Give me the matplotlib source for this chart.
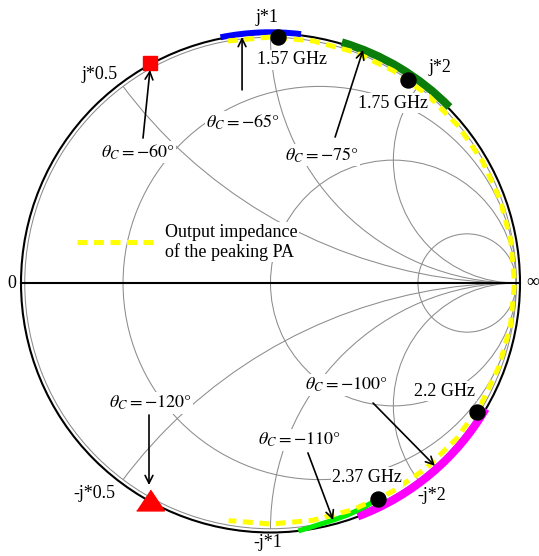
import numpy as np
import matplotlib.pyplot as plt
from matplotlib.patches import Arc, Circle

plt.rcParams['font.family'] = 'Liberation Serif'
plt.rcParams['mathtext.fontset'] = 'stix'

# --- Smith chart grid values ---
R_CIRCLES = [0.25, 1, 4]
X_ARCS = [0.5, 1, 2, -0.5, -1, -2]
GRID_SCALE = 0.985   # printed grid sits slightly inside the unit circle

# Output impedance of the peaking PA as reflection coefficient (angle in deg, |Gamma|)
trace_ang = [100, 90, 80, 70, 60, 50, 40, 30, 20, 10, 0,
             -10, -20, -30, -40, -50, -60, -70, -80, -90, -100]
trace_mag = [0.985, 0.986, 0.985, 0.985, 0.983, 0.982, 0.981, 0.980, 0.979, 0.978, 0.978,
             0.977, 0.975, 0.974, 0.972, 0.970, 0.968, 0.967, 0.966, 0.966, 0.967]

# Frequency points on the trace
freq_labels = ['1.57 GHz', '1.75 GHz', '2.2 GHz', '2.37 GHz']
freq_ang = [88.3, 55.9, -32.0, -63.6]
freq_mag = [0.988, 0.983, 0.974, 0.967]
freq_text_pos = [(0.086, 0.894), (0.491, 0.721), (0.699, -0.433), (0.387, -0.778)]

# Bands of load impedance reached for different theta_C (start/end angle in deg)
band_colors = ['#0000ff', '#0a7d0a', '#ff00ff']
band_start = [83.0, 44.5, -69.5]
band_end = [101.5, 73.5, -30.3]
band_mag = [1.005, 1.006, 0.999]
band_width = [4.3, 5.8, 5.8]

# Lower-frequency tail of the trace from 2.37 GHz back to the rim
lime_ang = [-63.6, -67.5, -71.8, -75.0, -78.4, -81.0, -83.6]
lime_mag = [0.967, 0.974, 0.980, 0.983, 0.987, 0.993, 1.000]

# Reactance markers on the rim (square for +j0.5, triangle for -j0.5)
square_ang, square_mag = 118.8, 1.004
tri_ang, tri_mag = -119.0, 0.995

# Rim labels
rim_labels = ['0', '\u221e', 'j*0.5', 'j*1', 'j*2', '-j*0.5', '-j*1', '-j*2']
rim_pos = [(-1.036, 0.0), (1.050, 0.004), (-0.683, 0.834), (-0.014, 1.066),
           (0.679, 0.862), (-0.707, -0.842), (-0.010, -1.042), (0.647, -0.850)]

# theta_C annotations: label, label position, arrow tail, arrow tip
theta_vals = [-60, -65, -75, -120, -100, -110]
theta_pos = [(-0.531, 0.525), (-0.110, 0.645), (0.206, 0.513),
             (-0.483, -0.481), (0.303, -0.409), (0.114, -0.629)]
arrow_tail = [(-0.511, 0.581), (-0.114, 0.774), (0.259, 0.585),
              (-0.487, -0.529), (0.411, -0.481), (0.150, -0.681)]
arrow_tip = [(-0.483, 0.854), (-0.114, 0.986), (0.371, 0.934),
             (-0.487, -0.810), (0.659, -0.733), (0.251, -0.950)]


def polar_xy(ang, mag):
    a = np.radians(np.asarray(ang, dtype=float))
    m = np.asarray(mag, dtype=float)
    return m * np.cos(a), m * np.sin(a)


fig = plt.figure(figsize=(5.39, 5.56), dpi=100)
ax = fig.add_axes([0, 0, 1, 1])
ax.set_xlim(-1.0842, 1.0762)
ax.set_ylim(-1.0942, 1.1343)
ax.set_aspect('equal')
ax.axis('off')

grid_kw = dict(fill=False, edgecolor='#8c8c8c', lw=0.75, zorder=1)
s = GRID_SCALE
clip = Circle((0, 0), s, transform=ax.transData)
ax.add_patch(Circle((0, 0), s, **grid_kw))
for r in R_CIRCLES:
    ax.add_patch(Circle((s * r / (1 + r), 0), s / (1 + r), **grid_kw))
for x in X_ARCS:
    arc = Circle((s, s / x), s / abs(x), **grid_kw)
    ax.add_patch(arc)
    arc.set_clip_path(clip)

# unit circle and real axis
ax.add_patch(Circle((0, 0), 1.0, fill=False, edgecolor='black', lw=1.5, zorder=3))
ax.plot([-1, 1], [0, 0], color='black', lw=1.5, zorder=3)

# highlighted bands on the rim
for c, a0, a1, m, w in zip(band_colors, band_start, band_end, band_mag, band_width):
    ax.add_patch(Arc((0, 0), 2 * m, 2 * m, theta1=a0, theta2=a1,
                     color=c, lw=w, zorder=4))

lx, ly = polar_xy(lime_ang, lime_mag)
ax.plot(lx, ly, color='#00ee00', lw=3.6, solid_capstyle='butt', zorder=5)

tx, ty = polar_xy(trace_ang, trace_mag)
ax.plot(tx, ty, color='#ffff00', lw=3.6, ls=(0, (2.0, 1.3)), zorder=5)

fx, fy = polar_xy(freq_ang, freq_mag)
ax.plot(fx, fy, 'o', color='black', ms=10.8, zorder=7)

sx, sy = polar_xy(square_ang, square_mag)
ax.plot(sx, sy, 's', color='#ff0000', ms=10, zorder=7)
qx, qy = polar_xy(tri_ang, tri_mag)
ax.plot(qx, qy, marker=[(-1, -0.75), (1, -0.75), (0, 0.75)], color='#ff0000',
        ms=20, ls='none', zorder=7)

box = dict(facecolor='white', edgecolor='none', pad=1.0)

for lab, (x, y) in zip(rim_labels, rim_pos):
    ax.text(x, y, lab, fontsize=13, ha='center', va='center', zorder=6)

for lab, (x, y) in zip(freq_labels, freq_text_pos):
    ax.text(x, y, lab, fontsize=13, ha='center', va='center', bbox=box, zorder=6)

for val, (x, y) in zip(theta_vals, theta_pos):
    ax.text(x, y, r'$\theta_C = -%d\degree$' % abs(val), fontsize=13,
            ha='center', va='center', bbox=box, zorder=6)

for tail, tip in zip(arrow_tail, arrow_tip):
    ax.annotate('', xy=tip, xytext=tail,
                arrowprops=dict(arrowstyle='->', color='black', lw=1.2,
                                shrinkA=0, shrinkB=0, mutation_scale=14),
                zorder=8)

# legend for the trace
ax.plot([-0.776, -0.463], [0.164, 0.164], color='#ffff00', lw=3.6,
        ls=(0, (2.0, 1.3)), zorder=6)
ax.text(-0.423, 0.164, 'Output impedance\nof the peaking PA', fontsize=13,
        ha='left', va='center', linespacing=1.15, bbox=box, zorder=6)

fig.savefig('out.png', dpi=100)
